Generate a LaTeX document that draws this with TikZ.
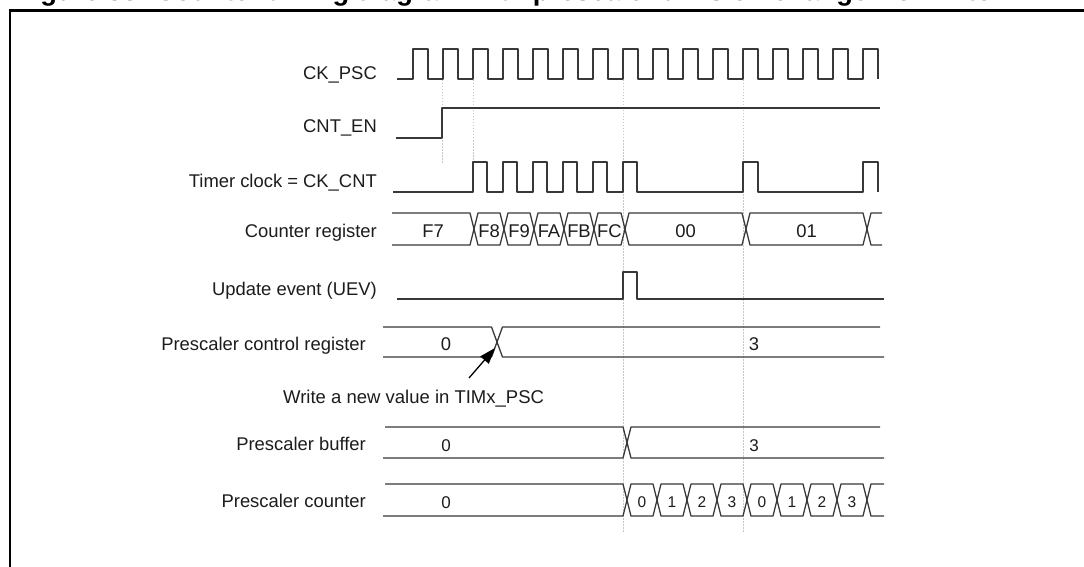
\documentclass[tikz,border=0pt]{standalone}
\usepackage{fontspec}
\setmainfont{Liberation Sans}
\usetikzlibrary{arrows.meta}
\definecolor{sigcol}{HTML}{383838}
\definecolor{txtcol}{HTML}{1C1C1C}
\begin{document}
\begin{tikzpicture}[x=1pt,y=-1pt,
  sig/.style={draw=sigcol, line width=1.3pt, line join=round},
  guide/.style={draw=black!22, line width=0.8pt, dash pattern=on 1.5pt off 1.5pt},
  lbl/.style={anchor=base east, inner sep=0pt, text=txtcol, font=\fontsize{18.4}{20}\selectfont},
  val/.style={anchor=base, inner sep=0pt, text=txtcol, font=\fontsize{18.4}{20}\selectfont},
  valsm/.style={anchor=base, inner sep=0pt, text=txtcol, font=\fontsize{15.5}{17}\selectfont},
  framestyle/.style={draw=black, line width=2.6pt},
  arrowstyle/.style={draw=black, line width=1.3pt, -{Triangle[length=16pt,width=11pt]}}]
\fill[white] (0,0) rectangle (1084,567);
\begin{scope}
\clip (0,0) rectangle (1084,567);

% title (cut off at the top)
\node[anchor=base west, inner sep=0pt, text=black, font=\bfseries\fontsize{27.3}{30}\selectfont] (title) at (16,0.8)
  {Figure 88. Counter timing diagram with prescaler division change from 1 to 4};

% frame
\draw[framestyle] (10,600) -- (10,10.5) -- (1100,10.5);
\end{scope}

% guide lines
\draw[guide] (442,80) -- (442,163);
\draw[guide] (473,80) -- (473,162);
\draw[guide] (623,80) -- (623,533);
\draw[guide] (743,80) -- (743,533);

% labels
\node[lbl] (lckpsc) at (377,80) {CK\_PSC};
\node[lbl] (lcnten) at (377,133) {CNT\_EN};
\node[lbl] (ltimer) at (377,187) {Timer clock = CK\_CNT};
\node[lbl] (lcntreg) at (377,237) {Counter register};
\node[lbl] (luev) at (377,295) {Update event (UEV)};
\node[lbl] (lpscctl) at (366,350) {Prescaler control register};
\node[lbl] (lpscbuf) at (366,450) {Prescaler buffer};
\node[lbl] (lpsccnt) at (366,507) {Prescaler counter};
\node[anchor=base west, inner sep=0pt, text=txtcol, font=\fontsize{18.5}{20}\selectfont] (wtxt) at (283,403) {Write a new value in TIMx\_PSC};

% CK_PSC
\draw[sig] (397,79) foreach \k in {0,...,15} { -- (413+30*\k,79) -- (413+30*\k,49) -- (428+30*\k,49) -- (428+30*\k,79) };

% CNT_EN
\draw[sig] (396,138) -- (442,138) -- (442,108) -- (880,108);

% Timer clock
\draw[sig] (393,192) foreach \k in {0,...,5} { -- (473+30*\k,192) -- (473+30*\k,162) -- (487+30*\k,162) -- (487+30*\k,192) }
  -- (743,192) -- (743,162) -- (758,162) -- (758,192) -- (863,192) -- (863,162) -- (878,162) -- (878,192);

% Counter register
\draw[sig] (392,213) -- (470,213) -- (474,229) -- (470,245) -- (392,245);
\foreach \a/\b in {474/504,504/534,534/564,564/594,594/625,625/746,746/867}
  \draw[sig] (\a,229) -- (\a+4,213) -- (\b-4,213) -- (\b,229) -- (\b-4,245) -- (\a+4,245) -- cycle;
\draw[sig] (882,213) -- (871,213) -- (867,229) -- (871,245) -- (882,245);
\node[val] (vf7) at (433,237.5) {F7};
\node[val] (vf8) at (489,237.5) {F8};
\node[val] (vf9) at (519,237.5) {F9};
\node[val] (vfa) at (549,237.5) {FA};
\node[val] (vfb) at (579,237.5) {FB};
\node[val] (vfc) at (609.5,237.5) {FC};
\node[val] (v00) at (685.5,237.5) {00};
\node[val] (v01) at (806.5,237.5) {01};

% Update event
\draw[sig] (397,299) -- (623,299) -- (623,272) -- (637,272) -- (637,299) -- (884,299);

% Prescaler control register
\draw[sig] (383,327) -- (491.5,327) -- (497,342) -- (491.5,357) -- (383,357);
\draw[sig] (880,327) -- (502.5,327) -- (497,342) -- (502.5,357) -- (884,357);
\node[val] (vctl0) at (446,350.5) {0};
\node[val] (vctl3) at (754,350.5) {3};

% arrow
\coordinate (wtail) at (469,378);
\coordinate (wtip) at (495,348);
\draw[arrowstyle] (wtail) -- (wtip);

% Prescaler buffer
\draw[sig] (385,427) -- (623,427) -- (627,442.5) -- (623,458) -- (383,458);
\draw[sig] (880,427) -- (631,427) -- (627,442.5) -- (631,458) -- (884,458);
\node[val, font=\fontsize{17}{19}\selectfont] (vbuf0) at (446,451) {0};
\node[val, font=\fontsize{17}{19}\selectfont] (vbuf3) at (754,451) {3};

% Prescaler counter
\draw[sig] (385,484) -- (623,484) -- (627,500) -- (623,516) -- (383,516);
\foreach \a in {627,657,...,837}
  \draw[sig] (\a,500) -- (\a+4,484) -- (\a+26,484) -- (\a+30,500) -- (\a+26,516) -- (\a+4,516) -- cycle;
\draw[sig] (884,484) -- (871,484) -- (867,500) -- (871,516) -- (884,516);
\node[val, font=\fontsize{17}{19}\selectfont] (vcnt0) at (446,508) {0};
\foreach \v [count=\i from 0] in {0,1,2,3,0,1,2,3}
  \node[valsm] (vc\i) at (642+30*\i,507) {\v};

\pgfresetboundingbox
\useasboundingbox (0,0) rectangle (1084,567);
\end{tikzpicture}
\end{document}
